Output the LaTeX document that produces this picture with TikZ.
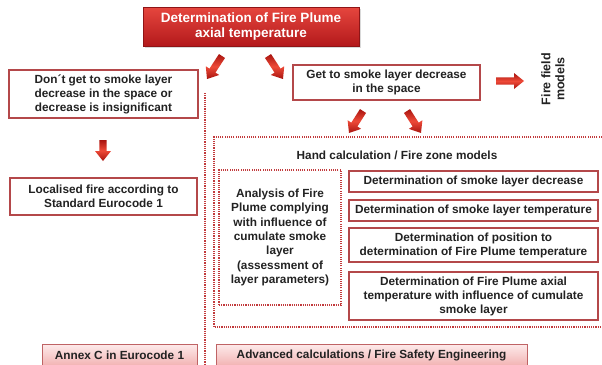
\documentclass[tikz,border=0pt]{standalone}
\usepackage{fontspec}
\setmainfont{Liberation Sans}
\usetikzlibrary{calc,shadows}
\definecolor{boxred}{HTML}{B4484A}
\definecolor{dotred}{HTML}{C23A3C}
\definecolor{arrlight}{HTML}{EE4A38}
\definecolor{arrdark}{HTML}{A8140F}
\definecolor{txt}{HTML}{222222}
\definecolor{pinktop}{HTML}{FDEBEB}
\definecolor{pinkbot}{HTML}{F2B2B2}
\definecolor{redtop}{HTML}{E6463E}
\definecolor{redbot}{HTML}{B3191B}
\newcommand{\blkarrow}[2]{%
  \path let \p1=($(#2)-(#1)$) in \pgfextra{%
     \pgfmathsetmacro\baang{atan2(\y1,\x1)}%
     \pgfmathsetmacro\balen{veclen(\x1,\y1)}%
     \global\let\baangG\baang \global\let\balenG\balen};
  \shade[shift={(#1)}, rotate=\baangG, top color=arrdark, bottom color=arrdark, middle color=arrlight]
    (0pt,-3.6pt) -- ({\balenG*1pt-10pt},-3.6pt) -- ({\balenG*1pt-10pt},-8pt) -- ({\balenG*1pt},0pt)
    -- ({\balenG*1pt-10pt},8pt) -- ({\balenG*1pt-10pt},3.6pt) -- (0pt,3.6pt) -- cycle;
}
\tikzset{
  txtfont/.style={font=\fontsize{11.8}{14}\selectfont\bfseries},
  wbox/.style={draw=boxred, line width=1.3pt, fill=white, align=center, txtfont, text=txt,
     inner sep=0pt, drop shadow={opacity=0.18, shadow xshift=1.2pt, shadow yshift=-1.2pt}},
  pbox/.style={draw=boxred!85, line width=0.9pt, top color=pinktop, bottom color=pinkbot,
     align=center, txtfont, text=txt, inner sep=0pt},
  rbox/.style={draw=redbot!80!black, line width=0.8pt, top color=redtop, bottom color=redbot,
     align=center, font=\fontsize{13.5}{15.5}\selectfont\bfseries, text=white, inner sep=0pt,
     drop shadow={opacity=0.3, shadow xshift=1.5pt, shadow yshift=-1.5pt}},
  dotline/.style={draw=dotred, line width=1.2pt, dash pattern=on 1.1pt off 1.1pt},
  plain/.style={align=center, txtfont, text=txt, inner sep=0pt},
}
\begin{document}
\begin{tikzpicture}[x=1pt,y=-1pt]
\useasboundingbox (0,0) rectangle (602,364);
% dotted structure
\coordinate (v1) at (205,93);
\coordinate (v2) at (205,366);
\draw[dotline] (v1) -- (v2);
\coordinate (bR1) at (604,137);
\coordinate (bL1) at (214,137);
\coordinate (bL2) at (214,327);
\coordinate (bR2) at (604,327);
\draw[dotline] (bR1) -- (bL1) -- (bL2) -- (bR2);
\node[dotline, minimum width=122pt, minimum height=135pt, plain, font=\fontsize{11.8}{14.4}\selectfont\bfseries] (ana) at (280,237.5)
  {Analysis of Fire\\Plume complying\\with influence of\\cumulate smoke\\layer\\(assessment of\\layer parameters)};
\node[plain] (hand) at (397,155) {Hand calculation / Fire zone models};
% boxes
\node[rbox, minimum width=216pt, minimum height=39pt] (top) at (251,26.5)
  {Determination of Fire Plume\\axial temperature};
\node[wbox, minimum width=189pt, minimum height=48pt] (dont) at (103.5,94)
  {Don´t get to smoke layer\\decrease in the space or\\decrease is insignificant};
\node[wbox, minimum width=187pt, minimum height=35pt] (get) at (386.5,82.5)
  {Get to smoke layer decrease\\in the space};
\node[plain, rotate=90, font=\fontsize{12.5}{14}\selectfont\bfseries] (field) at (553,79) {Fire field\\models};
\node[wbox, minimum width=187pt, minimum height=37pt] (local) at (103.5,196.5)
  {Localised fire according to\\Standard Eurocode 1};
\node[wbox, minimum width=249pt, minimum height=21pt] (b1) at (473.5,181.5)
  {Determination of smoke layer decrease};
\node[wbox, minimum width=249pt, minimum height=21pt] (b2) at (473.5,210.5)
  {Determination of smoke layer temperature};
\node[wbox, minimum width=249pt, minimum height=34pt] (b3) at (473.5,245)
  {Determination of position to\\determination of Fire Plume temperature};
\node[wbox, minimum width=249pt, minimum height=48pt] (b4) at (473.5,296)
  {Determination of Fire Plume axial\\temperature with influence of cumulate\\smoke layer};
\node[pbox, minimum width=155pt, minimum height=22pt] (annex) at (119.5,355)
  {Annex C in Eurocode 1};
\node[pbox, minimum width=311pt, minimum height=22pt] (adv) at (371.5,355)
  {Advanced calculations / Fire Safety Engineering};
% block arrows
\coordinate (a1s) at (222,56); \coordinate (a1e) at (207,79);
\coordinate (a2s) at (268,56); \coordinate (a2e) at (283,79);
\coordinate (a3s) at (496,81); \coordinate (a3e) at (524,81);
\coordinate (a4s) at (363,111); \coordinate (a4e) at (349,133);
\coordinate (a5s) at (407,111); \coordinate (a5e) at (421,133);
\coordinate (a6s) at (103,140); \coordinate (a6e) at (103,161);
\blkarrow{a1s}{a1e}
\blkarrow{a2s}{a2e}
\blkarrow{a3s}{a3e}
\blkarrow{a4s}{a4e}
\blkarrow{a5s}{a5e}
\blkarrow{a6s}{a6e}
\end{tikzpicture}
\end{document}
